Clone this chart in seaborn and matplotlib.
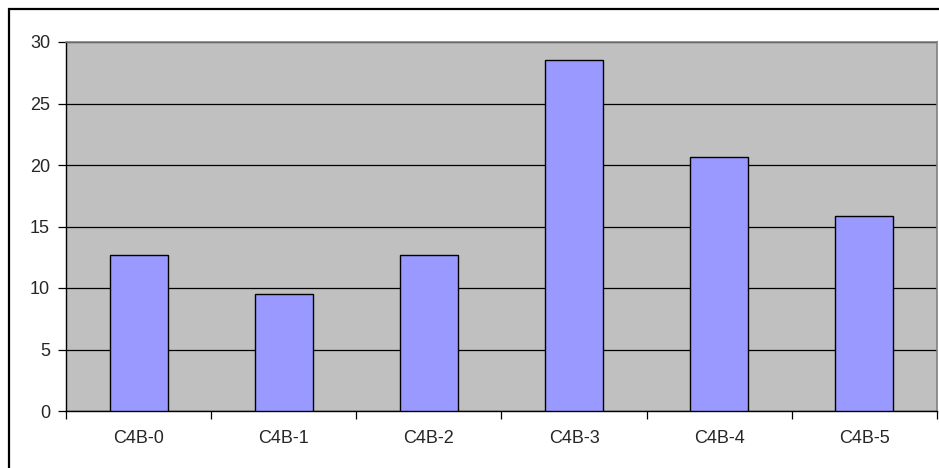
import matplotlib
matplotlib.use("Agg")
import matplotlib.pyplot as plt
import matplotlib.patches as mpatches
from matplotlib.ticker import FixedLocator
import pandas as pd
import seaborn as sns

# data
categories = ["C4B-0", "C4B-1", "C4B-2", "C4B-3", "C4B-4", "C4B-5"]
values = [12.70, 9.52, 12.70, 28.57, 20.63, 15.87]
y_ticks = [0, 5, 10, 15, 20, 25, 30]

sns.set_style("white")
plt.rcParams['font.family'] = ['Liberation Sans', 'DejaVu Sans']

df = pd.DataFrame({"cat": categories, "val": values})

fig = plt.figure(figsize=(9.39, 4.68), dpi=100)
ax = fig.add_axes([66 / 939, 1 - 411 / 468, (937 - 66) / 939, (411 - 42) / 468])
ax.set_facecolor("#C0C0C0")

sns.barplot(data=df, x="cat", y="val", color="#9999FF", saturation=1,
            width=0.4, edgecolor="black", linewidth=1.0, ax=ax, zorder=3)

ax.set_ylim(0, 30)
ax.set_xlim(-0.5, len(categories) - 0.5)
ax.set_yticks(y_ticks)
ax.yaxis.grid(True, color="black", linewidth=0.9, zorder=1)
ax.set_axisbelow(True)
ax.set_xlabel("")
ax.set_ylabel("")

# category boundary ticks
ax.xaxis.set_minor_locator(FixedLocator([i - 0.5 for i in range(len(categories) + 1)]))
ax.tick_params(axis="x", which="major", length=0, pad=14, labelsize=13)
ax.tick_params(axis="x", which="minor", length=5.5, width=0.9, color="black", direction="out", bottom=True)
ax.tick_params(axis="y", length=5.5, width=0.9, color="black", direction="out", pad=6, labelsize=13, left=True)

for side in ["left", "bottom"]:
    ax.spines[side].set_color("black")
    ax.spines[side].set_linewidth(1.0)
for side in ["top", "right"]:
    ax.spines[side].set_visible(True)
    ax.spines[side].set_color("#808080")
    ax.spines[side].set_linewidth(1.2)

# outer chart border (right/bottom fall outside the image)
border = mpatches.Rectangle((9 / 939, -0.2), 1.2, (468 - 9) / 468 + 0.2,
                            transform=fig.transFigure, fill=False,
                            edgecolor="black", linewidth=1.6)
fig.patches.append(border)

fig.savefig("out.png", dpi=100)
